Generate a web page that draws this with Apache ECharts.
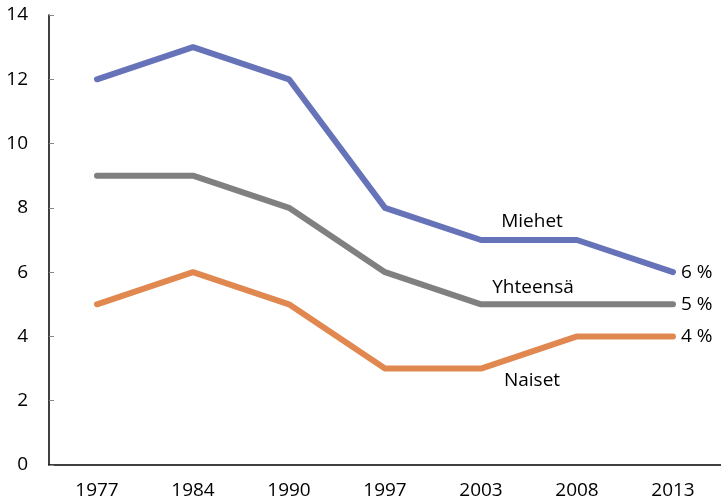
<!DOCTYPE html>
<html>
<head>
<meta charset="utf-8">
<script src="https://cdn.jsdelivr.net/npm/echarts@6/dist/echarts.min.js"></script>
<style>
html,body{margin:0;padding:0;background:#fff;}
#main{width:721px;height:501px;}
</style>
</head>
<body>
<div id="main"></div>
<script>
// data
var years = ['1977', '1984', '1990', '1997', '2003', '2008', '2013'];
var miehet = [12, 13, 12, 8, 7, 7, 6];
var yhteensa = [9, 9, 8, 6, 5, 5, 5];
var naiset = [5, 6, 5, 3, 3, 4, 4];

var font = 'Open Sans';
var fsize = 19;
var nameAt = 4; // nimi vuoden 2003 kohdalle

function makeSeries(name, values, color, offset) {
	return {
		name: name,
		type: 'line',
		data: values,
		showSymbol: false,
		symbol: 'none',
		silent: true,
		lineStyle: {color: color, width: 6, cap: 'round', join: 'round'},
		itemStyle: {color: color},
		endLabel: {
			show: true,
			formatter: '{c} %',
			distance: 8,
			color: '#000',
			fontFamily: font,
			fontSize: fsize
		},
		markPoint: {
			silent: true,
			symbol: 'circle',
			symbolSize: 0,
			data: [{
				coord: [years[nameAt], values[nameAt]],
				label: {
					show: true,
					position: 'inside',
					offset: offset,
					formatter: name,
					color: '#000',
					fontFamily: font,
					fontSize: fsize
				}
			}]
		}
	};
}

var chart = echarts.init(document.getElementById('main'));
chart.setOption({
	animation: false,
	grid: {left: 49, right: 0, top: 15, bottom: 36},
	xAxis: {
		type: 'category',
		data: years,
		boundaryGap: true,
		axisLine: {lineStyle: {color: '#000', width: 1.5}},
		axisTick: {inside: true, length: 6, lineStyle: {color: '#888'}},
		axisLabel: {color: '#000', fontFamily: font, fontSize: fsize, margin: 16}
	},
	yAxis: {
		type: 'value',
		min: 0,
		max: 14,
		interval: 2,
		splitLine: {show: false},
		axisLine: {show: true, lineStyle: {color: '#000', width: 1.5}},
		axisTick: {show: true, inside: true, length: 5, lineStyle: {color: '#888'}},
		axisLabel: {color: '#000', fontFamily: font, fontSize: fsize, margin: 21}
	},
	series: [
		makeSeries('Miehet', miehet, '#6673B8', [51, -18]),
		makeSeries('Yhteensä', yhteensa, '#808080', [52, -17]),
		makeSeries('Naiset', naiset, '#E08850', [51, 12])
	]
});
</script>
</body>
</html>
